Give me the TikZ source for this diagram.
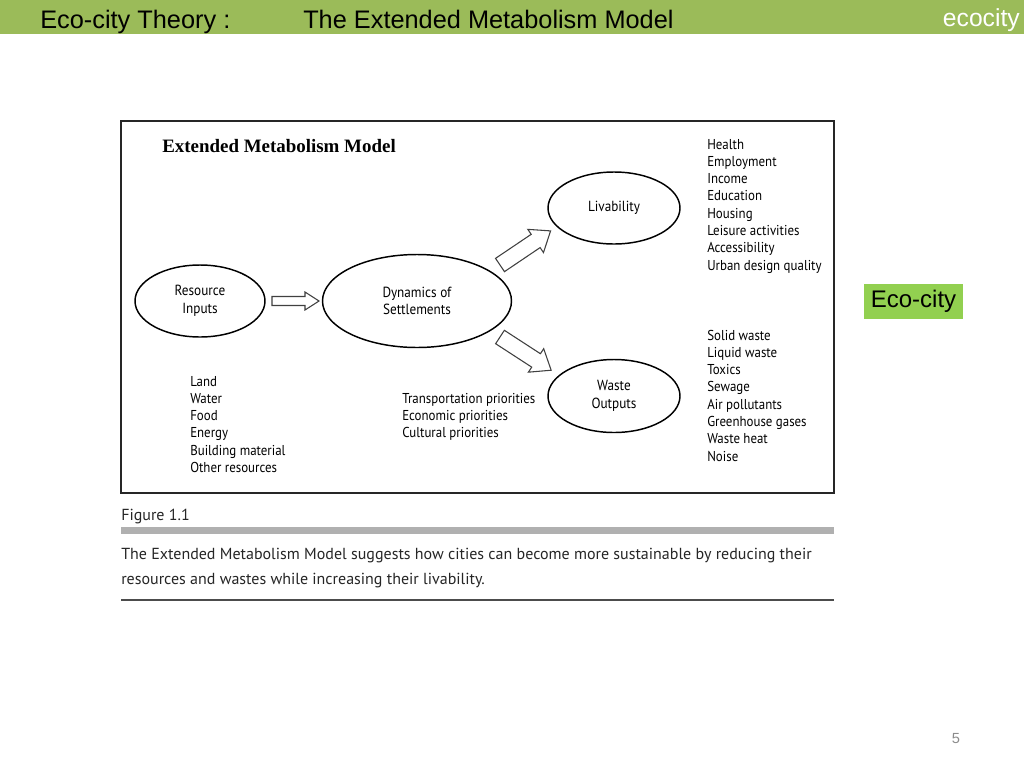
\documentclass[tikz,border=0pt]{standalone}
\usepackage{fontspec}
\usetikzlibrary{shapes.geometric}
\setmainfont{Liberation Sans}
\newfontfamily\serifb{Liberation Serif}
\newfontfamily\listf[FakeStretch=0.9]{PT Sans}
\newfontfamily\capf{PT Sans}
\definecolor{hdrgreen}{HTML}{9BBB59}
\definecolor{boxgreen}{HTML}{92D050}
\definecolor{bargray}{HTML}{B0B0B0}
\definecolor{numgray}{HTML}{8C8C8C}
\tikzset{
  px/.style={x=0.75pt,y=-0.75pt},
  ell/.style={draw=black,line width=1.1pt,ellipse,inner sep=0pt,font=\listf\fontsize{11pt}{13.2pt}\selectfont,align=center},
  lst/.style={anchor=base west,inner sep=0pt,font=\listf\fontsize{10.75pt}{13pt}\selectfont},
  capt/.style={anchor=base west,inner sep=0pt,font=\capf\fontsize{12pt}{14pt}\selectfont,text=black!85},
  hdr/.style={anchor=base west,inner sep=0pt,font=\fontsize{19pt}{21pt}\selectfont},
  blockarr/.style={draw=black!75,line width=0.8pt,fill=white},
}
\begin{document}
\begin{tikzpicture}[px]
\useasboundingbox (0,0) rectangle (1024,768);
\fill[white] (0,0) rectangle (1024,768);
% header
\fill[hdrgreen] (0,0) rectangle (1024,34);
\node[hdr] (t1) at (40,28) {Eco-city Theory :};
\node[hdr] (t2) at (303,28) {The Extended Metabolism Model};
\node[anchor=base east,inner sep=0pt,text=white,font=\fontsize{18.5pt}{20pt}\selectfont] (t3) at (1020,26) {ecocity};
% figure frame
\draw[line width=0.8pt,black!85] (121,121) rectangle (834,493);
\node[anchor=base west,inner sep=0pt,font=\serifb\bfseries\fontsize{14.2pt}{16pt}\selectfont] (title) at (162,152) {Extended Metabolism Model};
% ellipses
\node[ell,minimum width=130pt*0.75,minimum height=72pt*0.75] (res) at (200,301) {Resource\\Inputs};
\node[ell,minimum width=189pt*0.75,minimum height=93pt*0.75] (dyn) at (417,301) {Dynamics of\\Settlements};
\node[ell,minimum width=132pt*0.75,minimum height=72pt*0.75] (liv) at (614,208) {Livability};
\node[ell,minimum width=132pt*0.75,minimum height=73pt*0.75] (was) at (614,396) {Waste\\Outputs};
% block arrows
\begin{scope}[shift={(272,301)}]
\draw[blockarr] (0,-4.5) -- (33,-4.5) -- (33,-9) -- (47,0) -- (33,9) -- (33,4.5) -- (0,4.5) -- cycle;
\end{scope}
\begin{scope}[shift={(500,265)},rotate=34]
\draw[blockarr] (0,-8) -- (43,-8) -- (43,-14) -- (61,0) -- (43,14) -- (43,8) -- (0,8) -- cycle;
\end{scope}
\begin{scope}[shift={(500,337)},rotate=-33]
\draw[blockarr] (0,-8) -- (43,-8) -- (43,-14) -- (61,0) -- (43,14) -- (43,8) -- (0,8) -- cycle;
\end{scope}
% lists
\foreach \t [count=\i] in {Health,Employment,Income,Education,Housing,Leisure activities,Accessibility,Urban design quality}
  \node[lst] (la\i) at (707,{149+17.3*(\i-1)}) {\t};
\foreach \t [count=\i] in {Solid waste,Liquid waste,Toxics,Sewage,Air pollutants,Greenhouse gases,Waste heat,Noise}
  \node[lst] (lw\i) at (707,{340+17.3*(\i-1)}) {\t};
\foreach \t [count=\i] in {Land,Water,Food,Energy,Building material,Other resources}
  \node[lst] (lr\i) at (190,{386+17.3*(\i-1)}) {\t};
\foreach \t [count=\i] in {Transportation priorities,Economic priorities,Cultural priorities}
  \node[lst] (lp\i) at (402,{403+17.3*(\i-1)}) {\t};
% caption
\node[capt] (fig) at (121,520) {Figure 1.1};
\fill[bargray] (121,527) rectangle (834,534);
\node[capt] (cap1) at (121,559) {The Extended Metabolism Model suggests how cities can become more sustainable by reducing their};
\node[capt] (cap2) at (121,584) {resources and wastes while increasing their livability.};
\draw[black!70,line width=0.8pt] (121,600) -- (834,600);
% eco-city box
\node[fill=boxgreen,minimum width=99pt*0.75,minimum height=35pt*0.75,inner sep=0pt,font=\fontsize{18pt}{20pt}\selectfont] (eco) at (913.5,301.5) {Eco-city};
\node[text=numgray,font=\fontsize{11pt}{13pt}\selectfont,inner sep=0pt] (pg) at (956,739) {5};
\end{tikzpicture}
\end{document}
